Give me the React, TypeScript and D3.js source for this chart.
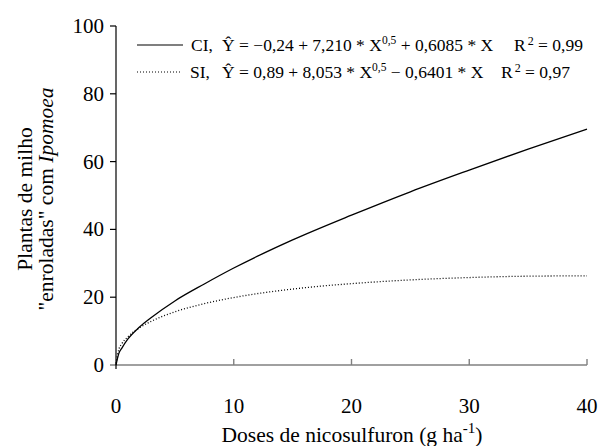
import React from "react";
import * as d3 from "d3";

const doses = [0, 0.25, 0.5, 1, 2, 3, 5, 7.5, 10, 15, 20, 25, 30, 35, 40];
const ciValues = [0, 3.5, 5.0, 7.6, 11.2, 14.0, 18.9, 23.9, 28.6, 36.9, 44.2, 51.1, 57.5, 63.7, 69.6];
const siValues = [0.5, 4.7, 6.3, 8.3, 11.0, 12.9, 15.7, 18.1, 19.9, 22.4, 24.0, 25.1, 25.8, 26.2, 26.3];
const xTicks = [0, 10, 20, 30, 40];
const yTicks = [0, 20, 40, 60, 80, 100];

const FONT = "'Liberation Serif', 'Times New Roman', serif";

export default function App() {
  const W = 599, H = 446;
  const x = d3.scaleLinear().domain([0, 40]).range([116, 587]);
  const y = d3.scaleLinear().domain([0, 100]).range([365, 26]);
  const line = d3
    .line<number>()
    .x((_, i) => x(doses[i]))
    .y((d) => y(d))
    .curve(d3.curveMonotoneX);

  return (
    <svg width={W} height={H} style={{ position: "absolute", left: 0, top: 0, background: "#fff" }} fontFamily={FONT}>
      {/* x axis */}
      <line x1={110} x2={x(40)} y1={y(0)} y2={y(0)} stroke="#808080" strokeWidth={1.4} />
      {xTicks.slice(1).map((t) => (
        <line key={"xt" + t} x1={x(t)} x2={x(t)} y1={y(0)} y2={y(0) - 6} stroke="#808080" strokeWidth={1.4} />
      ))}
      {xTicks.map((t) => (
        <text key={"xl" + t} x={x(t)} y={413} textAnchor="middle" fontSize={21} fill="#000">
          {t}
        </text>
      ))}
      {/* y axis */}
      <line x1={x(0)} x2={x(0)} y1={y(100)} y2={y(0) + 4} stroke="#000" strokeWidth={1.2} />
      {yTicks.slice(1).map((t) => (
        <line key={"yt" + t} x1={x(0) - 6} x2={x(0)} y1={y(t)} y2={y(t)} stroke="#000" strokeWidth={1.2} />
      ))}
      {yTicks.map((t) => (
        <text key={"yl" + t} x={104} y={y(t) + 7} textAnchor="end" fontSize={21} fill="#000">
          {t}
        </text>
      ))}
      {/* curves */}
      <path d={line(ciValues) || ""} fill="none" stroke="#000" strokeWidth={1.3} />
      <path d={line(siValues) || ""} fill="none" stroke="#000" strokeWidth={1.3} strokeDasharray="1,2" />
      {/* legend */}
      <line x1={137} x2={183} y1={45} y2={45} stroke="#000" strokeWidth={1.2} />
      <line x1={137} x2={181} y1={72} y2={72} stroke="#000" strokeWidth={1.2} strokeDasharray="1,2" />
      <text y={51} fontSize={17.5} fill="#000">
        <tspan x={191}>CI,</tspan>
        <tspan x={222}>Ŷ = −0,24 + 7,210 * X</tspan>
        <tspan fontSize={11.5} dy={-7}>0,5</tspan>
        <tspan dy={7}> + 0,6085 * X</tspan>
        <tspan x={514}>R</tspan>
        <tspan dx={2} dy={-6} fontSize={12}>2</tspan>
        <tspan dy={6}> = 0,99</tspan>
      </text>
      <text y={78} fontSize={17.5} fill="#000">
        <tspan x={190}>SI,</tspan>
        <tspan x={222}>Ŷ = 0,89 + 8,053 * X</tspan>
        <tspan fontSize={11.5} dy={-7}>0,5</tspan>
        <tspan dy={7}> − 0,6401 * X</tspan>
        <tspan x={501}>R</tspan>
        <tspan dx={2} dy={-6} fontSize={12}>2</tspan>
        <tspan dy={6}> = 0,97</tspan>
      </text>
      {/* axis titles */}
      <text x={352} y={442} textAnchor="middle" fontSize={21.5} fill="#000">
        Doses de nicosulfuron (g ha
        <tspan fontSize={15} dy={-9}>-1</tspan>
        <tspan dy={9}>)</tspan>
      </text>
      <g transform="translate(32,199) rotate(-90)">
        <text x={0} y={0} textAnchor="middle" fontSize={21.5} fill="#000">
          Plantas de milho
        </text>
        <text x={0} y={21} textAnchor="middle" fontSize={21.5} fill="#000">
          "enroladas" com <tspan fontStyle="italic">Ipomoea</tspan>
        </text>
      </g>
    </svg>
  );
}
